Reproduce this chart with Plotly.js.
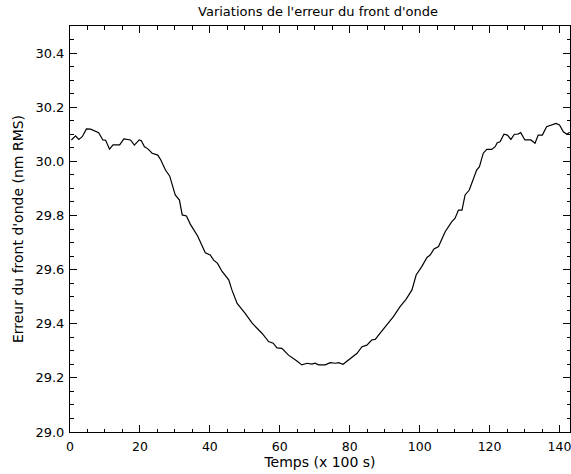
<!DOCTYPE html>
<html>
<head>
<meta charset="utf-8">
<script src="https://cdn.plot.ly/plotly-3.0.1.min.js"></script>
<style>html,body{margin:0;padding:0;background:#fff;}#chart{width:571px;height:474px;}</style>
</head>
<body>
<div id="chart"></div>
<script>
// Time (x 100 s)
const temps = [0.4,1.6,2.5,3.5,4.7,5.9,8.2,9.4,10.2,11.3,12.3,14.2,15.4,17.3,18.4,19.8,20.4,21.3,22.2,23.5,25.1,25.9,27.3,28.5,30.1,31.3,32.1,33.3,34.4,36.5,38.7,40.1,41.1,42.2,43.5,45.4,46.3,47.8,50.1,52.1,54.9,56.8,58.1,59.2,60.6,62.5,64.9,66.3,67.8,69.2,70.1,71.1,73.0,74.4,75.9,76.8,78.1,79.2,80.6,82.1,83.5,84.9,86.3,87.3,88.7,90.6,92.5,94.4,96.1,97.8,99.0,100.6,102.1,103.0,104.1,105.4,107.3,109.2,110.1,111.1,112.1,113.0,114.2,116.3,117.1,118.2,119.2,120.6,121.6,122.2,123.0,124.1,125.1,126.1,127.1,128.0,128.9,130.1,131.8,133.0,133.9,135.1,136.3,139.0,140.0,141.1,142.1,142.9];
// Wavefront error (nm RMS)
const erreur = [30.079,30.094,30.081,30.091,30.120,30.119,30.106,30.079,30.078,30.045,30.061,30.061,30.083,30.079,30.060,30.079,30.076,30.054,30.047,30.030,30.023,30.007,29.968,29.946,29.876,29.857,29.802,29.798,29.768,29.724,29.662,29.654,29.635,29.623,29.593,29.562,29.525,29.475,29.438,29.402,29.365,29.334,29.328,29.311,29.309,29.284,29.262,29.248,29.254,29.251,29.254,29.248,29.248,29.256,29.254,29.256,29.250,29.262,29.278,29.291,29.315,29.321,29.340,29.342,29.365,29.395,29.426,29.463,29.490,29.525,29.580,29.611,29.645,29.654,29.676,29.685,29.740,29.777,29.789,29.820,29.820,29.876,29.894,29.968,29.980,30.030,30.044,30.044,30.054,30.069,30.072,30.100,30.097,30.081,30.100,30.100,30.106,30.079,30.079,30.067,30.097,30.097,30.128,30.140,30.134,30.109,30.100,30.107];

const xTicks = [0,20,40,60,80,100,120,140];
const yTicks = [29.0,29.2,29.4,29.6,29.8,30.0,30.2,30.4];
const yTickText = ['29.0','29.2','29.4','29.6','29.8','30.0','30.2','30.4'];

const font = 'DejaVu Sans, sans-serif';

Plotly.newPlot('chart', [{
  x: temps, y: erreur, type: 'scatter', mode: 'lines',
  line: {color: '#000', width: 1.2}
}], {
  width: 571, height: 474,
  margin: {l: 70, r: 1, t: 26, b: 42},
  paper_bgcolor: '#fff', plot_bgcolor: '#fff',
  showlegend: false,
  title: {text: "Variations de l'erreur du front d'onde", x: 0.557, xanchor: 'center', y: 0.985, yanchor: 'top',
          font: {family: font, size: 13, color: '#000'}},
  xaxis: {
    range: [0, 143], tickmode: 'array', tickvals: xTicks,
    ticks: 'inside', ticklen: 7, tickwidth: 1, tickcolor: '#000',
    showline: true, linecolor: '#000', linewidth: 1, mirror: 'ticks',
    showgrid: false, zeroline: false,
    minor: {dtick: 5, tick0: 0, ticks: 'inside', ticklen: 3.5, tickcolor: '#000', showgrid: false},
    tickfont: {family: font, size: 12.5, color: '#000'},
    ticklabeloverflow: 'allow',
    ticklabelstandoff: 3,
    title: {text: 'Temps (x 100 s)', font: {family: font, size: 14, color: '#000'}, standoff: 2}
  },
  yaxis: {
    range: [29.0, 30.5], tickmode: 'array', tickvals: yTicks, ticktext: yTickText,
    ticks: 'inside', ticklen: 7, tickwidth: 1, tickcolor: '#000',
    showline: true, linecolor: '#000', linewidth: 1, mirror: 'ticks',
    showgrid: false, zeroline: false,
    minor: {dtick: 0.05, tick0: 29.0, ticks: 'inside', ticklen: 3.5, tickcolor: '#000', showgrid: false},
    tickfont: {family: font, size: 13, color: '#000'},
    ticklabelstandoff: 2,
    title: {text: "Erreur du front d'onde (nm RMS)", font: {family: font, size: 14, color: '#000'}, standoff: 8}
  }
}, {displayModeBar: false, staticPlot: true});
</script>
</body>
</html>
